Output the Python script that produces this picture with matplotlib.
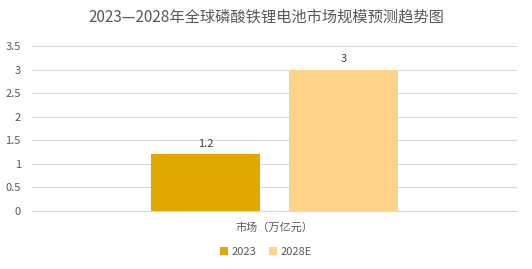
import matplotlib.pyplot as plt
import numpy as np

plt.rcParams['font.family'] = ['Noto Sans CJK SC', 'DejaVu Sans']

# data
categories = ['市场（万亿元）']
series_names = ['2023', '2028E']
values_2023 = [1.2]
values_2028 = [3]
colors = ['#E0A800', '#FFD28A']
yticks = [0, 0.5, 1, 1.5, 2, 2.5, 3, 3.5]
ytick_labels = ['0', '0.5', '1', '1.5', '2', '2.5', '3', '3.5']

txt = '#595959'
fig = plt.figure(figsize=(5.32, 2.69), dpi=100)
ax = fig.add_axes([0.060, 0.2156, 0.912, 0.6134])

x = np.arange(len(categories))
w = 0.225
off = 0.142
for vals, name, c, dx in [(values_2023, series_names[0], colors[0], -off),
                          (values_2028, series_names[1], colors[1], off)]:
    bars = ax.bar(x + dx, vals, width=w, color=c, label=name, zorder=3)
    for b, v in zip(bars, vals):
        ax.text(b.get_x() + b.get_width() / 2, v + 0.12, f'{v:g}',
                ha='center', va='bottom', fontsize=8, color='#404040')

ax.set_xlim(-0.5, 0.5)
ax.set_ylim(0, 3.5)
ax.set_yticks(yticks)
ax.set_yticklabels(ytick_labels, fontsize=8, color=txt)
ax.set_xticks(x)
ax.set_xticklabels(categories, fontsize=8, color=txt)
ax.tick_params(axis='x', length=0, pad=8)
ax.tick_params(axis='y', length=0, pad=8)
ax.grid(axis='y', color='#D9D9D9', linewidth=0.8, zorder=0)
for s in ['top', 'right', 'left']:
    ax.spines[s].set_visible(False)
ax.spines['bottom'].set_color('#D9D9D9')

fig.text(0.5, 0.935, '2023—2028年全球磷酸铁锂电池市场规模预测趋势图',
         ha='center', va='center', fontsize=11, color=txt)
fig.legend(loc='center', bbox_to_anchor=(0.5, 0.063), ncol=2, frameon=False,
           fontsize=8, handlelength=0.7, handleheight=0.7, handletextpad=0.3,
           columnspacing=1.2, labelcolor=txt)

fig.savefig('out.png', dpi=100)
